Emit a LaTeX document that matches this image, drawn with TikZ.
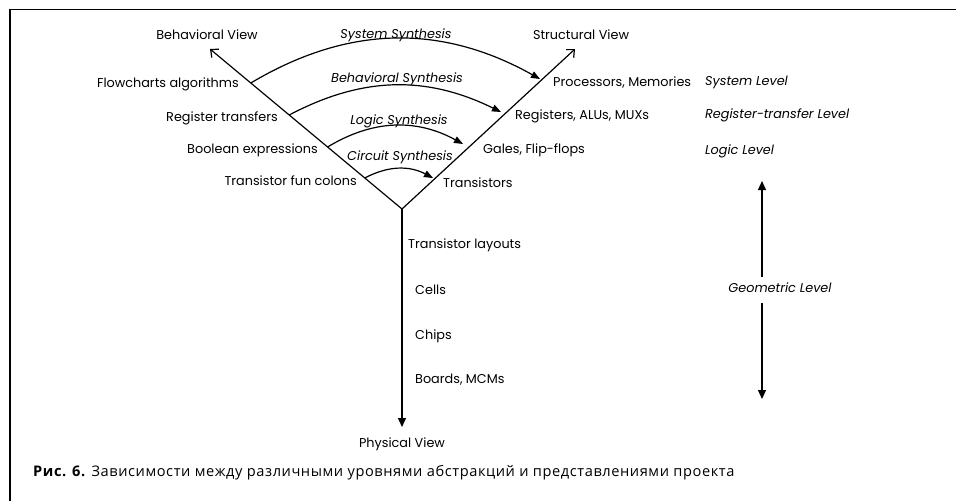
\documentclass[tikz,border=0pt]{standalone}
\usepackage{fontspec}
\setmainfont{Poppins}
\newfontfamily\capfont[LetterSpace=4]{Open Sans}
\usetikzlibrary{arrows.meta,calc}

\begin{document}
\begin{tikzpicture}[x=1pt,y=-1pt,
  lbl/.style={font=\fontsize{12.8}{15}\selectfont, inner sep=0pt},
  syn/.style={font=\fontsize{12.8}{15}\selectfont\itshape, inner sep=0pt},
  viewaxis/.style={line width=1.2pt, -{Straight Barb[length=6pt,width=11pt,line width=1.2pt]}},
  fillarrow/.style={line width=1.2pt, -{Triangle[length=9pt,width=8pt]}},
  synarc/.style={line width=1.2pt, -{Triangle[length=9pt,width=7pt]}}
]
\useasboundingbox (0,0) rectangle (956,501);

% frame (top and left edges)
\draw[line width=1.2pt] (956,9.5) -- (10,9.5) -- (10,501);

% the Y-chart axes
\coordinate (V) at (402,209);
\coordinate (B) at (210,49);
\coordinate (S) at (575,49);
\coordinate (P) at (402,427);
\draw[viewaxis] (V) -- (B);
\draw[viewaxis] (V) -- (S);
\draw[fillarrow] (V) -- (P);

% view labels
\node[lbl] (bview) at (207,35) {Behavioral View};
\node[lbl] (sview) at (581,35) {Structural View};
\node[lbl] (pview) at (402,444) {Physical View};

% behavioral domain
\node[lbl, anchor=mid east] (flow) at (239,85) {Flowcharts algorithms};
\node[lbl, anchor=mid east] (rtr)  at (278,119) {Register transfers};
\node[lbl, anchor=mid east] (bool) at (318,151) {Boolean expressions};
\node[lbl, anchor=mid east] (tfun) at (357,183) {Transistor fun colons};

% structural domain
\node[lbl, anchor=mid west] (proc) at (553,84) {Processors, Memories};
\node[lbl, anchor=mid west] (regs) at (515,117) {Registers, ALUs, MUXs};
\node[lbl, anchor=mid west] (gate) at (483,151) {Gales, Flip-flops};
\node[lbl, anchor=mid west] (tran) at (443,185) {Transistors};

% physical domain
\node[lbl, anchor=mid west] (tlay)  at (408,246) {Transistor layouts};
\node[lbl, anchor=mid west] (cells) at (415,292) {Cells};
\node[lbl, anchor=mid west] (chips) at (415,337) {Chips};
\node[lbl, anchor=mid west] (board) at (415,381) {Boards, MCMs};

% abstraction levels
\node[syn, anchor=mid west] (lsys) at (705,83) {System Level};
\node[syn, anchor=mid west] (lrt)  at (705,116) {Register-transfer Level};
\node[syn, anchor=mid west] (llog) at (705,152) {Logic Level};
\node[syn] (lgeo) at (780,288) {Geometric Level};
\coordinate (gup) at (762,181);
\coordinate (gupS) at (762,277);
\coordinate (gdnS) at (762,303);
\coordinate (gdn) at (762,399);
\draw[fillarrow] (gupS) -- (gup);
\draw[fillarrow] (gdnS) -- (gdn);

% synthesis arcs
\coordinate (a1) at ($(V)!0.7875!(B)$);
\coordinate (a2) at ($(V)!0.5875!(B)$);
\coordinate (a3) at ($(V)!0.3875!(B)$);
\coordinate (a4) at ($(V)!0.19375!(B)$);
\coordinate (e1) at (540,79);
\coordinate (e2) at (501,112);
\coordinate (e3) at (463,144);
\coordinate (e4) at (433,178);
\draw[synarc] (a1) to[bend left=30] (e1);
\draw[synarc] (a2) to[bend left=27] (e2);
\draw[synarc] (a3) to[bend left=30] (e3);
\draw[synarc] (a4) to[bend left=28] (e4);

\node[syn] (ssys) at (396,35) {System Synthesis};
\node[syn] (sbeh) at (397,79) {Behavioral Synthesis};
\node[syn] (slog) at (399,121) {Logic Synthesis};
\node[syn] (scir) at (400,157) {Circuit Synthesis};

% caption
\node[anchor=mid west, inner sep=0pt, font=\capfont\fontsize{14.6}{17}\selectfont] (cap) at (33,474)
  {\textbf{Рис. 6.} Зависимости между различными уровнями абстракций и представлениями проекта};
\end{tikzpicture}
\end{document}
